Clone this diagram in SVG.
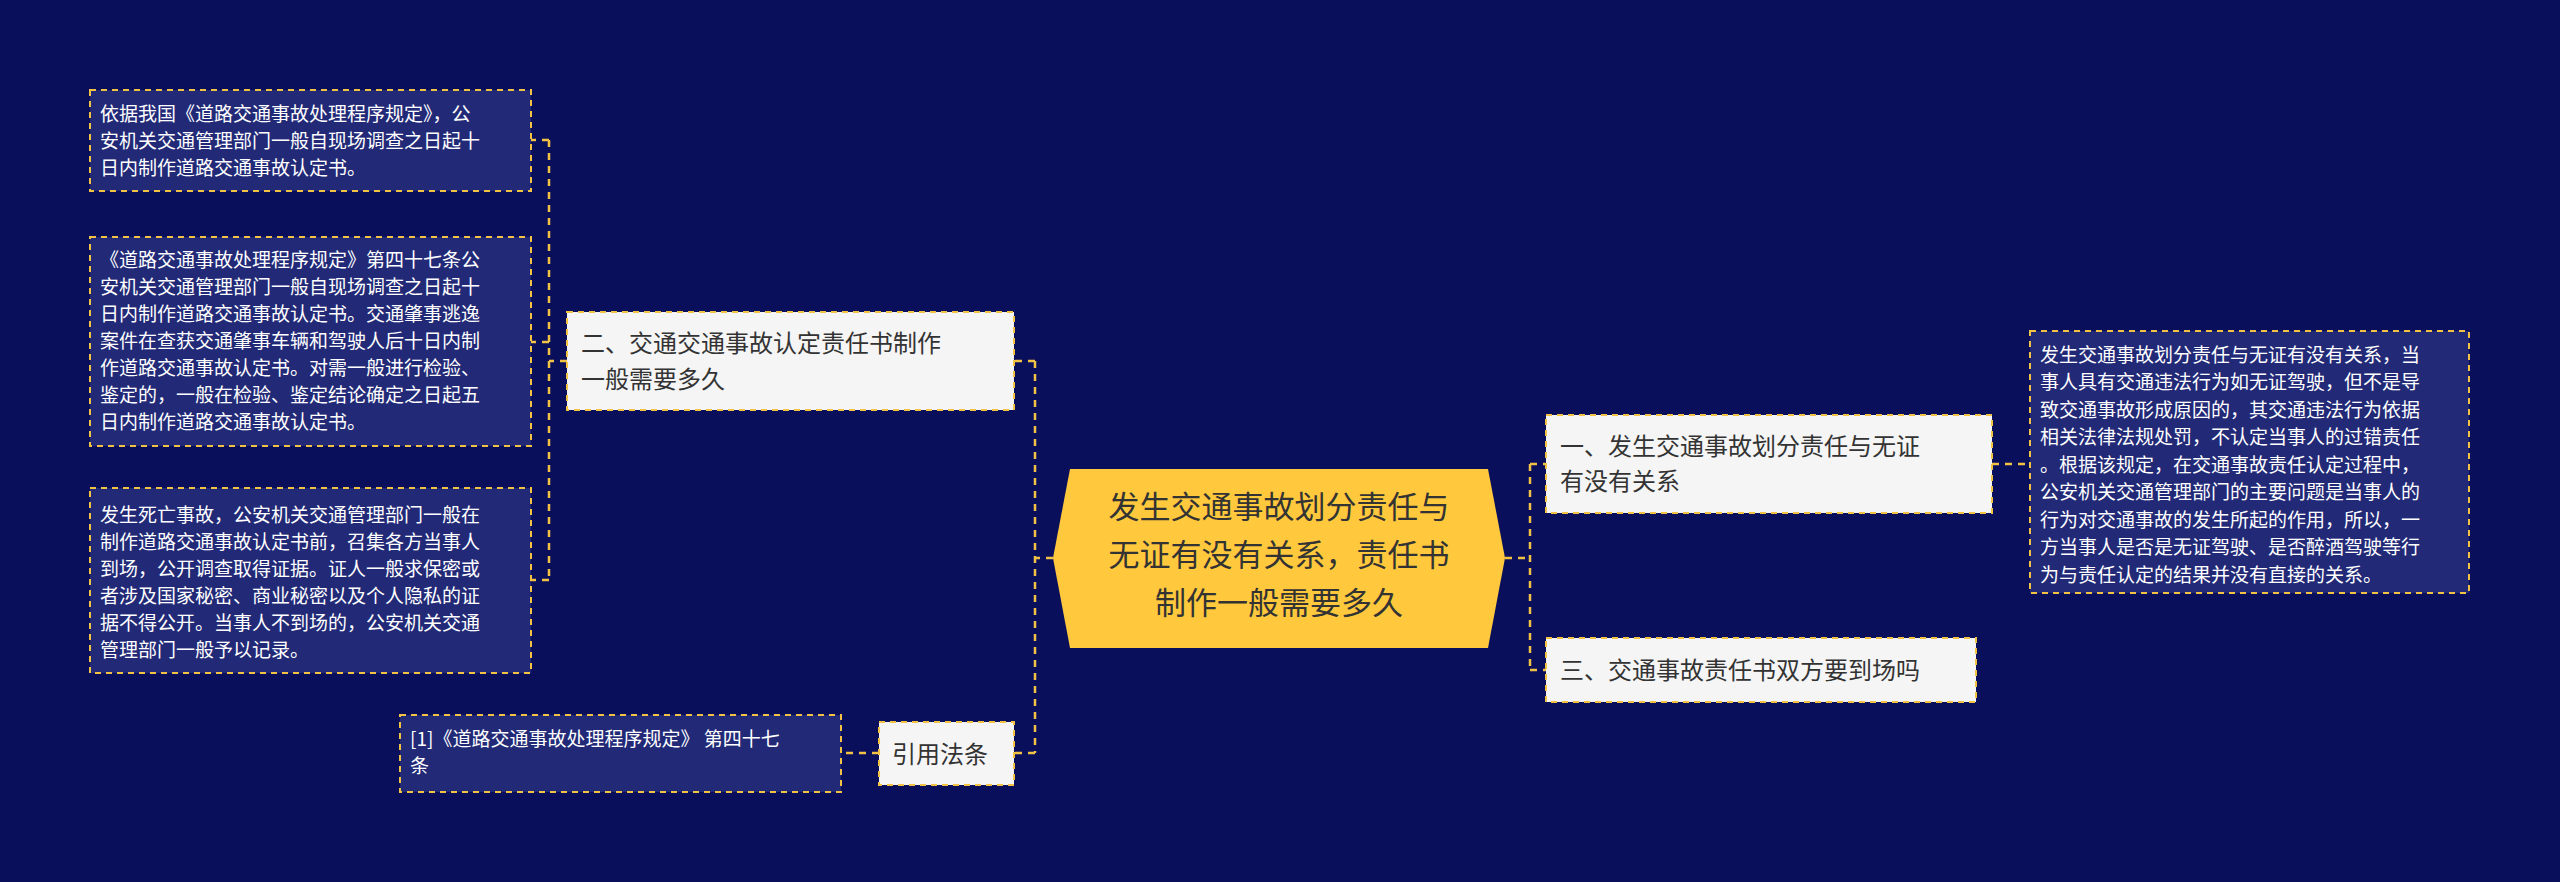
<svg xmlns="http://www.w3.org/2000/svg" width="2560" height="882" viewBox="0 0 2560 882">
<style>
text{font-family:"Noto Sans CJK SC","Noto Sans",sans-serif}
.leaf rect{fill:#222a78;stroke:#f2c244;stroke-width:2;stroke-dasharray:6 5}
.leaf text{fill:#ffffff;font-size:19px}
.node rect{fill:#f5f5f5;stroke:#f2c244;stroke-width:2;stroke-dasharray:6 5}
.node text{fill:#333;font-size:24px}
.con path{fill:none;stroke:#f2c244;stroke-width:2.5;stroke-dasharray:7 6}
</style>
<rect width="2560" height="882" fill="#0a0f5c"/>
<g class="con">
<path d="M1053 558H1035M1035 361V753M1035 361H1014M1035 753H1014"/>
<path d="M1505 558H1530M1530 464V670M1530 464H1546M1530 670H1546"/>
<path d="M567 361H549M549 140V580M549 140H531M549 342H531M549 580H531"/>
<path d="M1992 464H2030"/>
<path d="M879 753H841"/>
</g>
<g id="center">
<polygon points="1070,469 1488,469 1505,558 1488,648 1070,648 1053,558" fill="#ffc83d"/>
<text font-size="31" fill="#333" text-anchor="middle"><tspan x="1279" y="518">发生交通事故划分责任与</tspan><tspan x="1279" y="566">无证有没有关系，责任书</tspan><tspan x="1279" y="614">制作一般需要多久</tspan></text>
</g>
<g id="n1" class="node"><rect x="1546" y="415" width="446" height="98"/><text><tspan x="1560" y="455">一、发生交通事故划分责任与无证</tspan><tspan x="1560" y="490">有没有关系</tspan></text></g>
<g id="n3" class="node"><rect x="1546" y="638" width="430" height="64"/><text x="1560" y="679">三、交通事故责任书双方要到场吗</text></g>
<g id="n2" class="node"><rect x="567" y="312" width="447" height="98"/><text><tspan x="581" y="352">二、交通交通事故认定责任书制作</tspan><tspan x="581" y="388">一般需要多久</tspan></text></g>
<g id="n4" class="node"><rect x="879" y="722" width="135" height="63"/><text x="892" y="763">引用法条</text></g>
<g id="l1" class="leaf"><rect x="2030" y="331" width="439" height="262"/><text><tspan x="2040" y="362">发生交通事故划分责任与无证有没有关系，当</tspan><tspan x="2040" y="389">事人具有交通违法行为如无证驾驶，但不是导</tspan><tspan x="2040" y="417">致交通事故形成原因的，其交通违法行为依据</tspan><tspan x="2040" y="444">相关法律法规处罚，不认定当事人的过错责任</tspan><tspan x="2040" y="472">。根据该规定，在交通事故责任认定过程中，</tspan><tspan x="2040" y="499">公安机关交通管理部门的主要问题是当事人的</tspan><tspan x="2040" y="527">行为对交通事故的发生所起的作用，所以，一</tspan><tspan x="2040" y="554">方当事人是否是无证驾驶、是否醉酒驾驶等行</tspan><tspan x="2040" y="582">为与责任认定的结果并没有直接的关系。</tspan></text></g>
<g id="l2" class="leaf"><rect x="90" y="90" width="441" height="101"/><text><tspan x="100" y="121">依据我国《道路交通事故处理程序规定》，公</tspan><tspan x="100" y="148">安机关交通管理部门一般自现场调查之日起十</tspan><tspan x="100" y="175">日内制作道路交通事故认定书。</tspan></text></g>
<g id="l3" class="leaf"><rect x="90" y="237" width="441" height="209"/><text><tspan x="100" y="267">《道路交通事故处理程序规定》第四十七条公</tspan><tspan x="100" y="294">安机关交通管理部门一般自现场调查之日起十</tspan><tspan x="100" y="321">日内制作道路交通事故认定书。交通肇事逃逸</tspan><tspan x="100" y="348">案件在查获交通肇事车辆和驾驶人后十日内制</tspan><tspan x="100" y="375">作道路交通事故认定书。对需一般进行检验、</tspan><tspan x="100" y="402">鉴定的，一般在检验、鉴定结论确定之日起五</tspan><tspan x="100" y="429">日内制作道路交通事故认定书。</tspan></text></g>
<g id="l4" class="leaf"><rect x="90" y="488" width="441" height="185"/><text><tspan x="100" y="522">发生死亡事故，公安机关交通管理部门一般在</tspan><tspan x="100" y="549">制作道路交通事故认定书前，召集各方当事人</tspan><tspan x="100" y="576">到场，公开调查取得证据。证人一般求保密或</tspan><tspan x="100" y="603">者涉及国家秘密、商业秘密以及个人隐私的证</tspan><tspan x="100" y="630">据不得公开。当事人不到场的，公安机关交通</tspan><tspan x="100" y="657">管理部门一般予以记录。</tspan></text></g>
<g id="l5" class="leaf"><rect x="400" y="715" width="441" height="77"/><text><tspan x="410" y="746">[1]《道路交通事故处理程序规定》 第四十七</tspan><tspan x="410" y="773">条</tspan></text></g>
</svg>
